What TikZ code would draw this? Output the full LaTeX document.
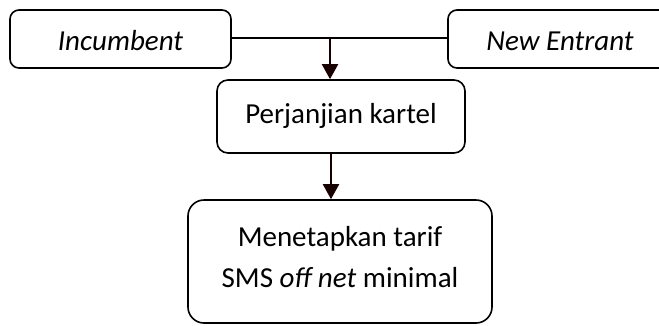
\documentclass[tikz,border=0pt]{standalone}
\usepackage{fontspec}
\setmainfont{Carlito}
\usetikzlibrary{arrows.meta}
\tikzset{
  box/.style={draw=black, line width=1.6pt, rounded corners=#1, inner sep=0pt,
    align=center, font=\fontsize{29}{41}\selectfont},
  box/.default=9pt,
  label text/.style={inner sep=0pt, align=center, font=\fontsize{29}{41}\selectfont},
  flow/.style={draw=black!90!red, line width=2pt,
    -{Triangle[width=16pt,length=15pt]}},
  link/.style={draw=black, line width=1.6pt}
}
\begin{document}
\begin{tikzpicture}[x=1pt,y=-1pt]
  \useasboundingbox (0,0) rectangle (659,325);
  \fill[white] (0,0) rectangle (659,325);
  \clip (0,0) rectangle (659,325);

  % the two parties
  \node[box, minimum width=221pt, minimum height=58pt] (inc) at (120.5,39) {};
  \node[label text] (inctext) at (120.5,41) {\itshape Incumbent};
  \node[box, minimum width=224pt, minimum height=58pt] (new) at (560,39) {};
  \node[label text] (newtext) at (560,41) {\itshape New Entrant};

  % agreement and its result
  \node[box=11pt, minimum width=248pt, minimum height=73pt] (perj) at (341,116.5) {};
  \node[label text] (perjtext) at (341,116) {Perjanjian kartel};
  \node[box=16pt, minimum width=304pt, minimum height=123pt] (men) at (340,261.5) {};
  \node[label text] (mentext) at (340,257) {Menetapkan tarif\\SMS \textit{off net} minimal};

  % connectors
  \coordinate (junc) at (330,38);
  \draw[link] (inc.east |- junc) -- (new.west |- junc);
  \draw[flow] (junc) -- (perj.north -| junc);
  \coordinate (mid) at (331,153);
  \draw[flow] (perj.south -| mid) -- (men.north -| mid);
\end{tikzpicture}
\end{document}
